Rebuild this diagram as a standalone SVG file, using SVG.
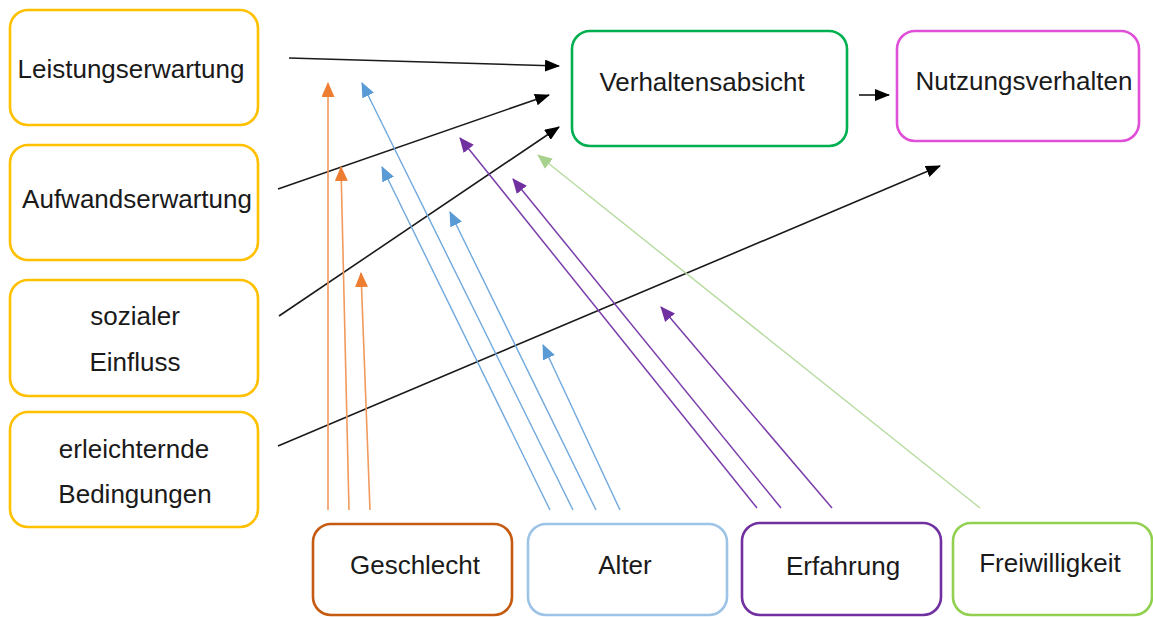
<svg xmlns="http://www.w3.org/2000/svg" width="1153" height="617" viewBox="0 0 1153 617">
  <style>
    .box { fill: #ffffff; stroke-width: 2.6; }
    .lbl { font-family: "Liberation Sans", Arial, sans-serif; font-size: 26px; fill: #1a1a1a; text-anchor: middle; }
    .k { stroke: #1a1a1a; stroke-width: 1.6; fill: none; marker-end: url(#headK); }
    .o { stroke: #F19A5E; stroke-width: 1.6; fill: none; marker-end: url(#headO); }
    .b { stroke: #6FA8DC; stroke-width: 1.4; fill: none; marker-end: url(#headB); }
    .p { stroke: #7A3DAA; stroke-width: 1.5; fill: none; marker-end: url(#headP); }
    .g { stroke: #B5DB9E; stroke-width: 1.4; fill: none; marker-end: url(#headG); }
  </style>
  <defs>
    <marker id="headK" markerUnits="userSpaceOnUse" markerWidth="15" markerHeight="12" refX="14" refY="6" orient="auto">
      <path d="M0,0 L15,6 L0,12 z" fill="#000000"/>
    </marker>
    <marker id="headO" markerUnits="userSpaceOnUse" markerWidth="15" markerHeight="13" refX="14" refY="6.5" orient="auto">
      <path d="M0,0 L15,6.5 L0,13 z" fill="#ED7D31"/>
    </marker>
    <marker id="headB" markerUnits="userSpaceOnUse" markerWidth="15" markerHeight="13" refX="14" refY="6.5" orient="auto">
      <path d="M0,0 L15,6.5 L0,13 z" fill="#5B9BD5"/>
    </marker>
    <marker id="headP" markerUnits="userSpaceOnUse" markerWidth="15" markerHeight="13" refX="14" refY="6.5" orient="auto">
      <path d="M0,0 L15,6.5 L0,13 z" fill="#7030A0"/>
    </marker>
    <marker id="headG" markerUnits="userSpaceOnUse" markerWidth="15" markerHeight="13" refX="14" refY="6.5" orient="auto">
      <path d="M0,0 L15,6.5 L0,13 z" fill="#A9D18E"/>
    </marker>
  </defs>

  <rect width="1153" height="617" fill="#ffffff"/>

  <!-- connectors -->
  <g id="connectors">
    <!-- determinants to intention / behaviour -->
    <line class="k" x1="289" y1="58" x2="559" y2="66"/>
    <line class="k" x1="278" y1="189" x2="549" y2="95"/>
    <line class="k" x1="279" y1="316" x2="559" y2="127"/>
    <line class="k" x1="278" y1="446" x2="940" y2="166"/>
    <line class="k" x1="859" y1="95" x2="889" y2="95"/>
    <!-- Geschlecht -->
    <line class="o" x1="328" y1="510" x2="328" y2="83"/>
    <line class="o" x1="349" y1="510" x2="341" y2="167"/>
    <line class="o" x1="370" y1="510" x2="361" y2="273"/>
    <!-- Alter -->
    <line class="b" x1="550" y1="510" x2="382" y2="167"/>
    <line class="b" x1="573" y1="510" x2="362" y2="83"/>
    <line class="b" x1="596" y1="510" x2="450" y2="212"/>
    <line class="b" x1="620" y1="510" x2="543" y2="345"/>
    <!-- Erfahrung -->
    <line class="p" x1="757" y1="508" x2="460" y2="138"/>
    <line class="p" x1="781" y1="508" x2="513" y2="179"/>
    <line class="p" x1="832" y1="508" x2="661" y2="307"/>
    <!-- Freiwilligkeit -->
    <line class="g" x1="980" y1="508" x2="538" y2="155"/>
  </g>

  <!-- determinants -->
  <g id="leistungserwartung">
    <rect class="box" x="10" y="10" width="248" height="115" rx="18" stroke="#FFC000"/>
    <text class="lbl" x="131" y="78">Leistungserwartung</text>
  </g>
  <g id="aufwandserwartung">
    <rect class="box" x="10" y="145" width="248" height="115" rx="18" stroke="#FFC000"/>
    <text class="lbl" x="137" y="208">Aufwandserwartung</text>
  </g>
  <g id="sozialer-einfluss">
    <rect class="box" x="10" y="280" width="248" height="116" rx="18" stroke="#FFC000"/>
    <text class="lbl" x="135" y="325">sozialer</text>
    <text class="lbl" x="135" y="371">Einfluss</text>
  </g>
  <g id="erleichternde-bedingungen">
    <rect class="box" x="10" y="412" width="248" height="115" rx="18" stroke="#FFC000"/>
    <text class="lbl" x="134" y="458">erleichternde</text>
    <text class="lbl" x="135" y="503">Bedingungen</text>
  </g>

  <!-- outcomes -->
  <g id="verhaltensabsicht">
    <rect class="box" x="572" y="31" width="275" height="115" rx="18" stroke="#00B050"/>
    <text class="lbl" x="702" y="91">Verhaltensabsicht</text>
  </g>
  <g id="nutzungsverhalten">
    <rect class="box" x="897" y="31" width="242" height="110" rx="18" stroke="#E04FD8"/>
    <text class="lbl" x="1024" y="90">Nutzungsverhalten</text>
  </g>

  <!-- moderators -->
  <g id="geschlecht">
    <rect class="box" x="313" y="524" width="199" height="91" rx="18" stroke="#C55A11"/>
    <text class="lbl" x="415" y="574">Geschlecht</text>
  </g>
  <g id="alter">
    <rect class="box" x="528" y="524" width="199" height="91" rx="18" stroke="#9DC3E6"/>
    <text class="lbl" x="625" y="574">Alter</text>
  </g>
  <g id="erfahrung">
    <rect class="box" x="742" y="523" width="199" height="92" rx="18" stroke="#7030A0"/>
    <text class="lbl" x="843" y="575">Erfahrung</text>
  </g>
  <g id="freiwilligkeit">
    <rect class="box" x="953" y="523" width="199" height="92" rx="18" stroke="#92D050"/>
    <text class="lbl" x="1050" y="572">Freiwilligkeit</text>
  </g>
</svg>
